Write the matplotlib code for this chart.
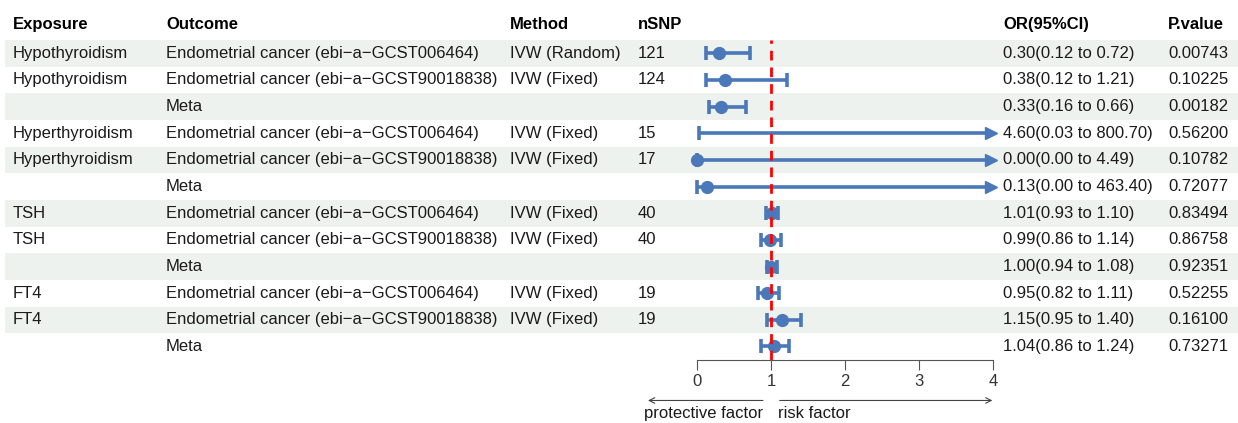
import matplotlib
matplotlib.use("Agg")
import matplotlib.pyplot as plt

plt.rcParams['font.family'] = ['Liberation Sans', 'DejaVu Sans']

exposure = ["Hypothyroidism", "Hypothyroidism", "", "Hyperthyroidism", "Hyperthyroidism", "",
            "TSH", "TSH", "", "FT4", "FT4", ""]
outcome = ["Endometrial cancer (ebi\u2212a\u2212GCST006464)", "Endometrial cancer (ebi\u2212a\u2212GCST90018838)", "Meta"] * 4
method = ["IVW (Random)", "IVW (Fixed)", "", "IVW (Fixed)", "IVW (Fixed)", "",
          "IVW (Fixed)", "IVW (Fixed)", "", "IVW (Fixed)", "IVW (Fixed)", ""]
nsnp = ["121", "124", "", "15", "17", "", "40", "40", "", "19", "19", ""]
or_val = [0.30, 0.38, 0.33, 4.60, 0.00, 0.13, 1.01, 0.99, 1.00, 0.95, 1.15, 1.04]
ci_lo = [0.12, 0.12, 0.16, 0.03, 0.00, 0.00, 0.93, 0.86, 0.94, 0.82, 0.95, 0.86]
ci_hi = [0.72, 1.21, 0.66, 800.70, 4.49, 463.40, 1.10, 1.14, 1.08, 1.11, 1.40, 1.24]
pval = ["0.00743", "0.10225", "0.00182", "0.56200", "0.10782", "0.72077",
        "0.83494", "0.86758", "0.92351", "0.52255", "0.16100", "0.73271"]

headers = ["Exposure", "Outcome", "Method", "nSNP", "OR(95%CI)", "P.value"]
col_x = [13, 166, 510, 638, 1003, 1168]

W, H = 1238, 423
fig = plt.figure(figsize=(W / 100, H / 100), dpi=100)

n = len(or_val)
top_px, axis_px = 40, 360
row_h = 26.65
ylim = (n - 0.5 + (axis_px - top_px - n * row_h) / row_h, -0.5)
bottom = (H - axis_px) / H
height = (axis_px - top_px) / H

# table part: stripes and text columns
bg = fig.add_axes([0, bottom, 1, height])
bg.set_xlim(0, W)
bg.set_ylim(*ylim)
bg.axis("off")
for i in range(0, n, 2):
    bg.axhspan(i - 0.5, i + 0.5, xmin=5 / W, xmax=1, color="#EEF2EF", lw=0)

hdr_y = -0.5 - (top_px - 24) / row_h
for x, h in zip(col_x, headers):
    bg.text(x, hdr_y, h, fontsize=12, fontweight="bold", va="center", ha="left", clip_on=False)

txt = "#1a1a1a"
for i in range(n):
    ci = f"{or_val[i]:.2f}({ci_lo[i]:.2f} to {ci_hi[i]:.2f})"
    for x, s in zip(col_x, [exposure[i], outcome[i], method[i], nsnp[i], ci, pval[i]]):
        bg.text(x, i, s, fontsize=12, va="center", ha="left", color=txt)

# forest part
ax = fig.add_axes([697 / W, bottom, 296 / W, height])
ax.patch.set_alpha(0)
ax.set_xlim(0, 4)
ax.set_ylim(*ylim)
for s in ["top", "left", "right"]:
    ax.spines[s].set_visible(False)
ax.spines["bottom"].set_bounds(0, 4)
ax.spines["bottom"].set_color("#555555")
ax.set_yticks([])
ax.set_xticks([0, 1, 2, 3, 4])
ax.tick_params(axis="x", length=7, color="#555555", labelsize=12, labelcolor="#333333", pad=3)

ax.axvline(1, color="#FF0000", lw=2, ls=(0, (3.5, 2.5)), zorder=5)

blue = "#4A78B8"
for i in range(n):
    hi = min(ci_hi[i], 4)
    ax.plot([ci_lo[i], hi], [i, i], color=blue, lw=2.6, solid_capstyle="butt", clip_on=False, zorder=3)
    ax.plot([ci_lo[i]], [i], marker="|", ms=10, mew=2.6, color=blue, clip_on=False, zorder=3)
    if ci_hi[i] > 4:
        # CI runs past the axis: end it with an arrow head
        ax.plot([3.97], [i], marker=">", ms=8.5, color=blue, clip_on=False, zorder=3)
    else:
        ax.plot([hi], [i], marker="|", ms=10, mew=2.6, color=blue, clip_on=False, zorder=3)
    if or_val[i] <= 4:
        ax.plot([or_val[i]], [i], marker="o", ms=8.5, color=blue, clip_on=False, zorder=4)

arr_y = n - 1 + (400 - 346) / row_h
lab_y = n - 1 + (413 - 346) / row_h
arrow = dict(arrowstyle="->", color="#444444", lw=0.8)
ax.annotate("", xy=(-0.70, arr_y), xytext=(0.93, arr_y), arrowprops=arrow, annotation_clip=False)
ax.annotate("", xy=(4.03, arr_y), xytext=(1.08, arr_y), arrowprops=arrow, annotation_clip=False)
ax.text(0.89, lab_y, "protective factor", fontsize=12, ha="right", va="center", color=txt, clip_on=False)
ax.text(1.09, lab_y, "risk factor", fontsize=12, ha="left", va="center", color=txt, clip_on=False)

fig.savefig("out.png", dpi=100)
